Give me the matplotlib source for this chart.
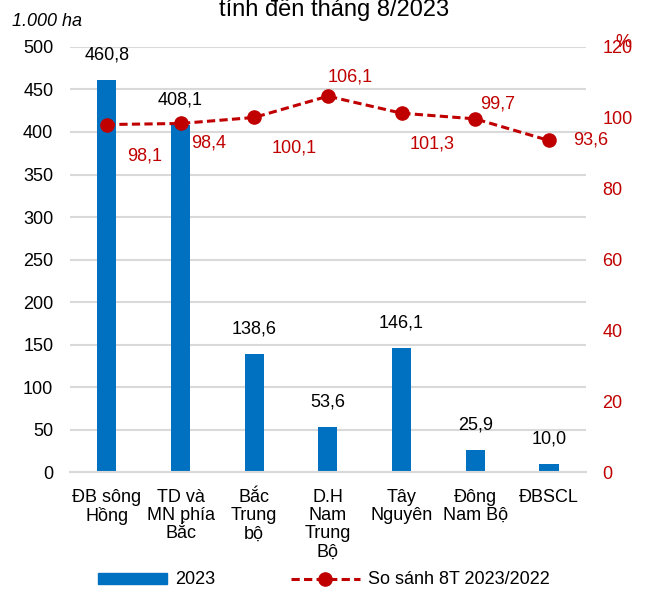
import matplotlib.pyplot as plt
import numpy as np
from matplotlib.patches import Patch
from matplotlib.lines import Line2D

plt.rcParams['font.family'] = ['Liberation Sans', 'DejaVu Sans']

regions = ['ĐB sông\nHồng', 'TD và\nMN phía\nBắc', 'Bắc\nTrung\nbộ', 'D.H\nNam\nTrung\nBộ',
           'Tây\nNguyên', 'Đông\nNam Bộ', 'ĐBSCL']
area_2023 = [460.8, 408.1, 138.6, 53.6, 146.1, 25.9, 10.0]
ratio = [98.1, 98.4, 100.1, 106.1, 101.3, 99.7, 93.6]

blue = '#0070C0'
red = '#C00000'
fs = 13

fig = plt.figure(figsize=(6.48, 5.94), dpi=100)
ax = fig.add_axes([0.108, 0.205, 0.796, 0.716])
ax2 = ax.twinx()

x = np.arange(len(regions))
ax.bar(x, area_2023, width=0.26, color=blue, zorder=2)
ax.set_ylim(0, 500)
ax.set_yticks(range(0, 501, 50))
ax.set_xlim(-0.5, 6.5)
ax.set_xticks(x)
ax.set_xticklabels(regions, fontsize=fs, va='top', linespacing=1.1)
ax.yaxis.grid(True, color='#D9D9D9', lw=1.5)
ax.set_axisbelow(True)
ax.tick_params(length=0, labelsize=fs, pad=12)
ax.tick_params(axis='x', pad=12)
for s in ['top', 'left', 'right']:
    ax.spines[s].set_visible(False)
ax.spines['bottom'].set_color('#D9D9D9')
ax.spines['bottom'].set_linewidth(1.5)

for xi, v in zip(x, area_2023):
    ax.annotate(f'{v:.1f}'.replace('.', ','), (xi, v), xytext=(0, 18),
                textcoords='offset points', ha='center', va='center', fontsize=fs)

line_style = dict(color=red, ls='--', lw=2.2, marker='o', ms=9.5, dashes=(2.7, 1.4))
ax2.plot(x, ratio, **line_style)
ax2.set_ylim(0, 120)
ax2.set_yticks(range(0, 121, 20))
ax2.tick_params(length=0, labelsize=fs, labelcolor=red, pad=12)
for s in ['top', 'left', 'right', 'bottom']:
    ax2.spines[s].set_visible(False)

# label offsets in points
offsets = [(27, -23), (20, -14), (29, -22), (16, 14), (22, -22), (16, 11), (30, 0)]
for xi, v, (dx, dy) in zip(x, ratio, offsets):
    ax2.annotate(f'{v:.1f}'.replace('.', ','), (xi, v), xytext=(dx, dy),
                 textcoords='offset points', ha='center', va='center',
                 color=red, fontsize=fs)

fig.text(0.018, 0.963, '1.000 ha', fontsize=fs, style='italic', va='center')
fig.text(0.962, 0.928, '%', fontsize=fs, color=red, ha='center', va='center')
fig.text(334 / 648, 1 - 16 / 594, 'tính đến tháng 8/2023', fontsize=17,
         ha='center', va='baseline')

handles = [Patch(color=blue), Line2D([], [], **line_style)]
fig.legend(handles, ['2023', 'So sánh 8T 2023/2022'], loc='center',
           bbox_to_anchor=(0.5, 1 - 580 / 594), ncol=2, frameon=False, fontsize=fs,
           handlelength=3.8, handleheight=0.55, handletextpad=0.45,
           columnspacing=4.2, borderaxespad=0)

fig.savefig('out.png', dpi=100)
